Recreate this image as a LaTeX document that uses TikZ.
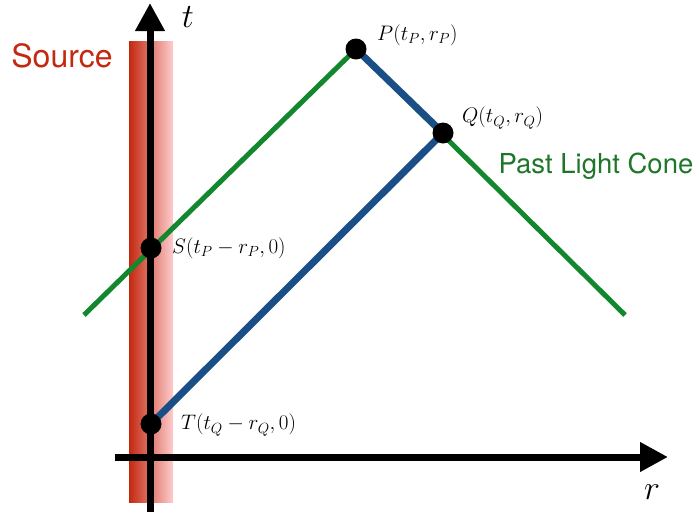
\RequirePackage{fix-cm}
\documentclass[tikz,border=0pt]{standalone}
\usepackage{fontspec}
\setsansfont{TeX Gyre Heros}
\usetikzlibrary{arrows.meta}
\definecolor{conegreen}{RGB}{18,135,45}
\definecolor{worldblue}{RGB}{26,78,134}
\definecolor{srcred}{RGB}{196,40,16}
\definecolor{srcpink}{RGB}{253,205,205}
\definecolor{txtgreen}{RGB}{30,118,40}
\tikzset{
  dot/.style={circle,fill=black,inner sep=0pt,minimum size=21pt},
  axisline/.style={line width=7pt,-{Triangle[length=28pt,width=28pt]}},
  coneline/.style={conegreen,line width=5pt},
  wline/.style={worldblue,line width=7pt},
  ptlabel/.style={font=\fontsize{21}{23}\selectfont,anchor=west,inner sep=0pt},
  axlabel/.style={font=\fontsize{34}{36}\selectfont,inner sep=0pt}
}
\begin{document}
\begin{tikzpicture}[x=1pt,y=-1pt]
\useasboundingbox (0,0) rectangle (699,515);
% source band
\shade[left color=srcred,right color=srcpink] (129,41) rectangle (173,502);
% axes
\coordinate (tbot) at (150,512);
\coordinate (ttop) at (150,3);
\coordinate (rleft) at (115,457);
\coordinate (rright) at (668,457);
\draw[axisline] (tbot) -- (ttop);
\draw[axisline] (rleft) -- (rright);
% points
\coordinate (P) at (356,49);
\coordinate (Q) at (443,133);
\coordinate (S) at (151,248);
\coordinate (T) at (151,424);
\coordinate (gL) at (84,315);
\coordinate (gR) at (625,315);
% light cone
\draw[coneline,line cap=butt] (gL) -- (P) -- (gR);
% world lines
\draw[wline] (T) -- (Q);
\draw[wline] (P) -- (Q);
% dots
\node[dot] (nP) at (P) {};
\node[dot] (nQ) at (Q) {};
\node[dot] (nS) at (S) {};
\node[dot] (nT) at (T) {};
% labels
\node[ptlabel] (lP) at (377,35) {$P(t_P,r_P)$};
\node[ptlabel] (lQ) at (462,118) {$Q(t_Q,r_Q)$};
\node[ptlabel] (lS) at (172,248) {$S(t_P-r_P,0)$};
\node[ptlabel] (lT) at (181,425) {$T(t_Q-r_Q,0)$};
\node[axlabel] (lt) at (188,17) {$t$};
\node[axlabel] (lr) at (652,492) {$r$};
\node[font=\sffamily\fontsize{32}{34}\selectfont,text=srcred,inner sep=0pt] (lsrc) at (62,56) {Source};
\node[font=\sffamily\fontsize{27.5}{30}\selectfont,text=txtgreen,inner sep=0pt] (lcone) at (596,166) {Past Light Cone};
\end{tikzpicture}
\end{document}
